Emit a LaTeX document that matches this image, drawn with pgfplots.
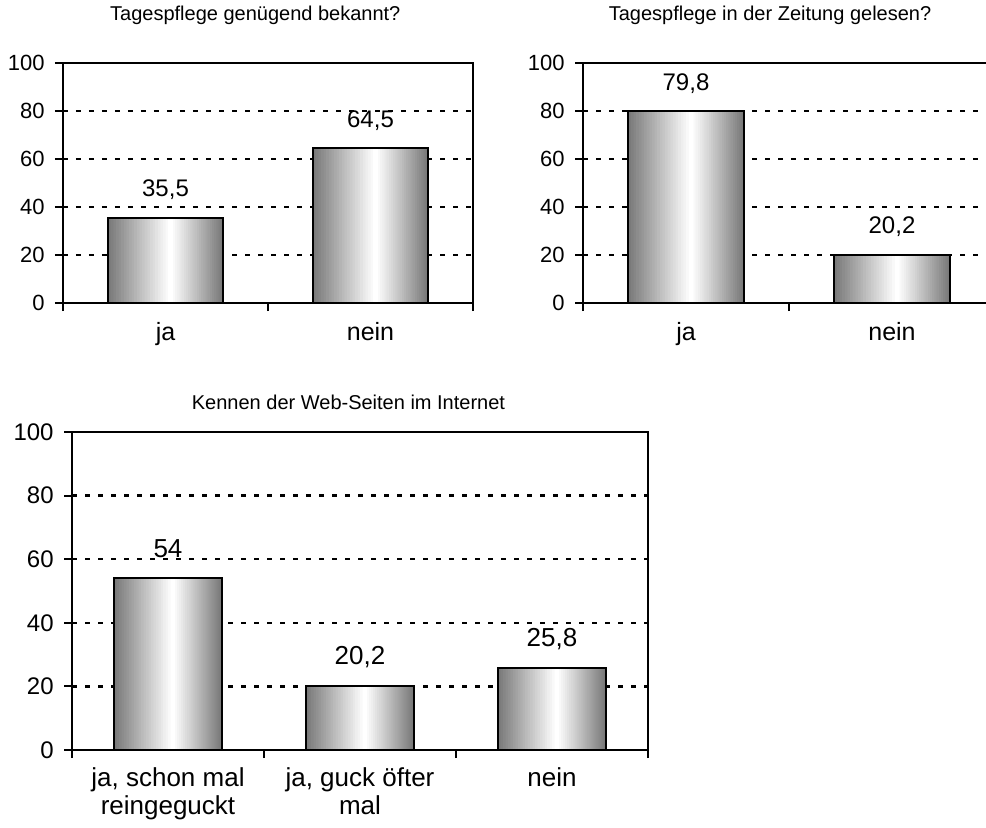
\documentclass[border=0pt]{standalone}
\usepackage{fontspec}
\setmainfont{Liberation Sans}
\usepackage{pgfplots}
\usepackage{pgfplotstable}
\pgfplotsset{compat=1.18}

% Excel-like bar gradient: 24 nested bars from grey (outside) to white (inside)
\foreach \i in {0,...,23}{%
  \pgfmathsetmacro\pct{52*(1-\i/23)}%
  \xglobal\colorlet{sh\i}{black!\pct}}

\pgfplotstableread{
x y lab
0 35.5 35,5
1 64.5 64,5
}\bekannt
\pgfplotstableread{
x y lab
0 79.8 79,8
1 20.2 20,2
}\zeitung
\pgfplotstableread{
x y lab
0 54 54
1 20.2 20,2
2 25.8 25,8
}\internet

\newcommand{\shadedbars}[2]{%
  \pgfplotsinvokeforeach{0,...,23}{%
    \addplot[ybar, draw=none, fill=sh##1, bar width={0.56*(1-##1/24)},
      bar shift={0.025*##1/23}] table[x=x,y=y] {#1};
  }%
  \addplot[ybar, bar width=0.56, draw=black, line width=1pt, fill=none,
    nodes near coords, point meta=explicit symbolic,
    every node near coord/.append style={font=\fontsize{#2}{14}\selectfont,
      anchor=base, yshift=10.5pt, inner sep=0pt}]
    table[x=x,y=y,meta=lab] {#1};
}

\pgfplotsset{
  excelbar/.style={
    scale only axis,
    anchor=south west,
    ymin=0, ymax=100,
    ytick={0,20,...,100},
    tick pos=left,
    axis line style={line width=1pt},
    tick align=outside,
    major tick length=4pt,
    tick style={black, line width=1pt},
    ymajorgrids,
    major grid style={black, line width=1.2pt, dash pattern=on 2.7pt off 3.8pt},
    xticklabels={},
    extra x tick style={grid=none, tick style={draw=none}},
    /pgf/number format/assume math mode=true,
    title style={font=\fontsize{10}{12}\selectfont, anchor=center},
  },
}

\begin{document}
\begin{tikzpicture}
\useasboundingbox (0,0) rectangle (493pt,413.5pt);
\clip (0,0) rectangle (493pt,413.5pt);

% Tagespflege genuegend bekannt
\begin{axis}[excelbar,
  at={(31.5pt,262pt)}, width=205pt, height=120pt,
  xmin=-0.5, xmax=1.5,
  xtick={-0.5,0.5,1.5},
  extra x ticks={0,1}, extra x tick labels={ja,nein},
  yticklabel style={font=\fontsize{11}{12}\selectfont, anchor=east, inner sep=0pt, xshift=-5pt},
  xticklabel style={font=\fontsize{12.5}{14}\selectfont, anchor=base, inner sep=0pt, yshift=-14.5pt},
  title={Tagespflege genügend bekannt?},
  title style={at={(0.469,1)}, yshift=18pt}]
\shadedbars{\bekannt}{12}
\end{axis}

% Tagespflege in der Zeitung
\begin{axis}[excelbar,
  at={(291.5pt,262pt)}, width=206pt, height=120pt,
  xmin=-0.5, xmax=1.5,
  xtick={-0.5,0.5,1.5},
  extra x ticks={0,1}, extra x tick labels={ja,nein},
  yticklabel style={font=\fontsize{11}{12}\selectfont, anchor=east, inner sep=0pt, xshift=-5pt},
  xticklabel style={font=\fontsize{12.5}{14}\selectfont, anchor=base, inner sep=0pt, yshift=-14.5pt},
  title={Tagespflege in der Zeitung gelesen?},
  title style={at={(0.454,1)}, yshift=18pt}]
\shadedbars{\zeitung}{12}
\end{axis}

% Web-Seiten
\begin{axis}[excelbar,
  at={(36pt,38.5pt)}, width=288pt, height=159pt,
  xmin=-0.5, xmax=2.5,
  xtick={-0.5,0.5,1.5,2.5},
  extra x ticks={0,1,2},
  extra x tick labels={{ja, schon mal\\reingeguckt},{ja, guck öfter\\mal},nein},
  yticklabel style={font=\fontsize{12}{14}\selectfont, anchor=east, inner sep=0pt, xshift=-5pt},
  xticklabel style={align=center, font=\fontsize{13}{14}\selectfont, anchor=north, inner sep=0pt, yshift=-4.5pt},
  title={Kennen der Web-Seiten im Internet},
  title style={at={(0.48,1)}, yshift=9pt}]
\shadedbars{\internet}{13}
\end{axis}
\end{tikzpicture}
\end{document}
